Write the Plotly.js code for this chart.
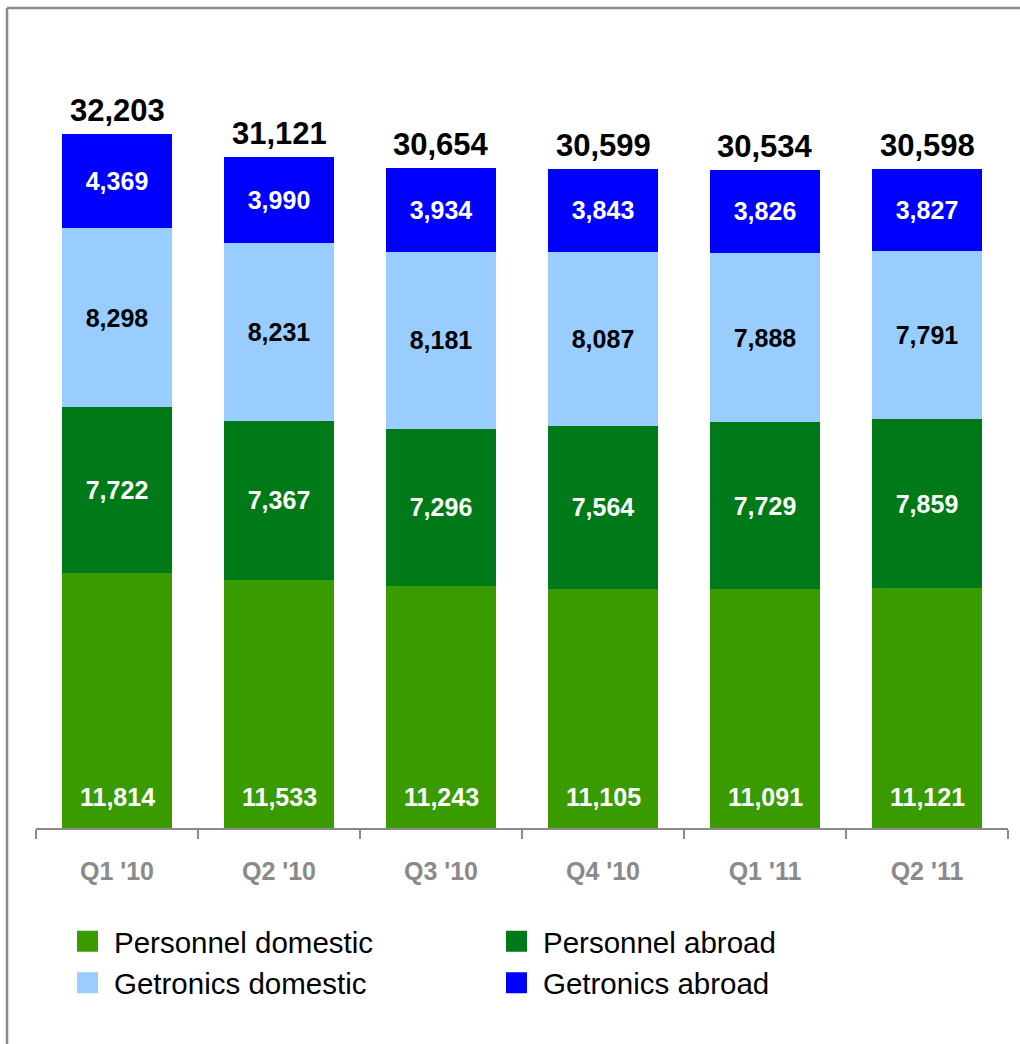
<!DOCTYPE html>
<html>
<head>
<meta charset="utf-8">
<script src="https://cdn.plot.ly/plotly-3.0.1.min.js"></script>
<style>
html,body{margin:0;padding:0;background:#ffffff;}
#chart{width:1020px;height:1044px;}
</style>
</head>
<body>
<div id="chart"></div>
<script>
var categories = ["Q1 '10", "Q2 '10", "Q3 '10", "Q4 '10", "Q1 '11", "Q2 '11"];
var personnelDomestic = [11814, 11533, 11243, 11105, 11091, 11121];
var personnelAbroad = [7722, 7367, 7296, 7564, 7729, 7859];
var getronicsDomestic = [8298, 8231, 8181, 8087, 7888, 7791];
var getronicsAbroad = [4369, 3990, 3934, 3843, 3826, 3827];
var totals = [32203, 31121, 30654, 30599, 30534, 30598];
var seriesNames = ["Personnel domestic", "Personnel abroad", "Getronics domestic", "Getronics abroad"];

var colors = ["#399b00", "#007a18", "#99ccff", "#0000ff"];
var FONT = "Liberation Sans, Arial, sans-serif";

function fmt(v){ return v.toLocaleString('en-US'); }

var seriesData = [personnelDomestic, personnelAbroad, getronicsDomestic, getronicsAbroad];
var labelColors = ["#ffffff", "#ffffff", "#000000", "#ffffff"];

var traces = [];
seriesData.forEach(function(vals, i){
  traces.push({
    type: 'bar',
    name: seriesNames[i],
    x: categories,
    y: vals,
    marker: {color: colors[i], line: {width: 0}},
    text: i === 0 ? null : vals.map(fmt),
    textposition: i === 0 ? 'none' : 'inside',
    insidetextanchor: 'middle',
    textangle: 0,
    insidetextfont: {family: FONT, size: 25, color: labelColors[i], weight: 'bold'},
    showlegend: false,
    hoverinfo: 'skip'
  });
});
// legend entries
seriesData.forEach(function(vals, i){
  traces.push({
    type: 'scatter',
    mode: 'markers',
    name: seriesNames[i],
    x: [categories[0]],
    y: [null],
    marker: {symbol: 'square', size: 16, color: colors[i], line: {width: 5, color: colors[i]}},
    showlegend: true,
    hoverinfo: 'skip'
  });
});

var annotations = [];
categories.forEach(function(c, j){
  annotations.push({
    x: c, y: totals[j], xref: 'x', yref: 'y',
    text: fmt(totals[j]), showarrow: false,
    yanchor: 'bottom', yshift: 4,
    font: {family: FONT, size: 31, color: '#000000', weight: 'bold'}
  });
  annotations.push({
    x: c, y: 0, xref: 'x', yref: 'y',
    text: fmt(personnelDomestic[j]), showarrow: false,
    yanchor: 'bottom', yshift: 15,
    font: {family: FONT, size: 25, color: '#ffffff', weight: 'bold'}
  });
});

var layout = {
  width: 1020, height: 1044,
  margin: {l: 36, r: 12, t: 20, b: 216},
  paper_bgcolor: '#ffffff', plot_bgcolor: '#ffffff',
  barmode: 'stack',
  bargap: 0.327,
  font: {family: FONT},
  xaxis: {
    type: 'category',
    showline: true, linecolor: '#8a8a8a', linewidth: 2,
    ticks: 'outside', tickson: 'boundaries', ticklen: 9, tickwidth: 2, tickcolor: '#8a8a8a',
    tickfont: {family: FONT, size: 25, color: '#8a8a8a', weight: 'bold'},
    ticklabelstandoff: 20,
    showgrid: false, zeroline: false, fixedrange: true
  },
  yaxis: {
    range: [0, 37500], visible: false, showgrid: false, zeroline: false, fixedrange: true
  },
  showlegend: true,
  legend: {
    orientation: 'h',
    x: 0.0257, xanchor: 'left',
    y: -0.1085, yanchor: 'top',
    itemwidth: 43,
    entrywidth: 371, entrywidthmode: 'pixels',
    font: {family: FONT, size: 29.5, color: '#000000'},
    bgcolor: 'rgba(0,0,0,0)',
    traceorder: 'normal'
  },
  annotations: annotations,
  shapes: [
    {type: 'line', xref: 'paper', yref: 'paper', x0: -0.0298, x1: -0.0298, y0: 1.0149, y1: -0.27, line: {color: '#8a8a8a', width: 2.5}},
    {type: 'line', xref: 'paper', yref: 'paper', x0: -0.0298, x1: 1.02, y0: 1.0149, y1: 1.0149, line: {color: '#8a8a8a', width: 2.5}}
  ]
};

Plotly.newPlot('chart', traces, layout, {displayModeBar: false, staticPlot: true});
</script>
</body>
</html>
